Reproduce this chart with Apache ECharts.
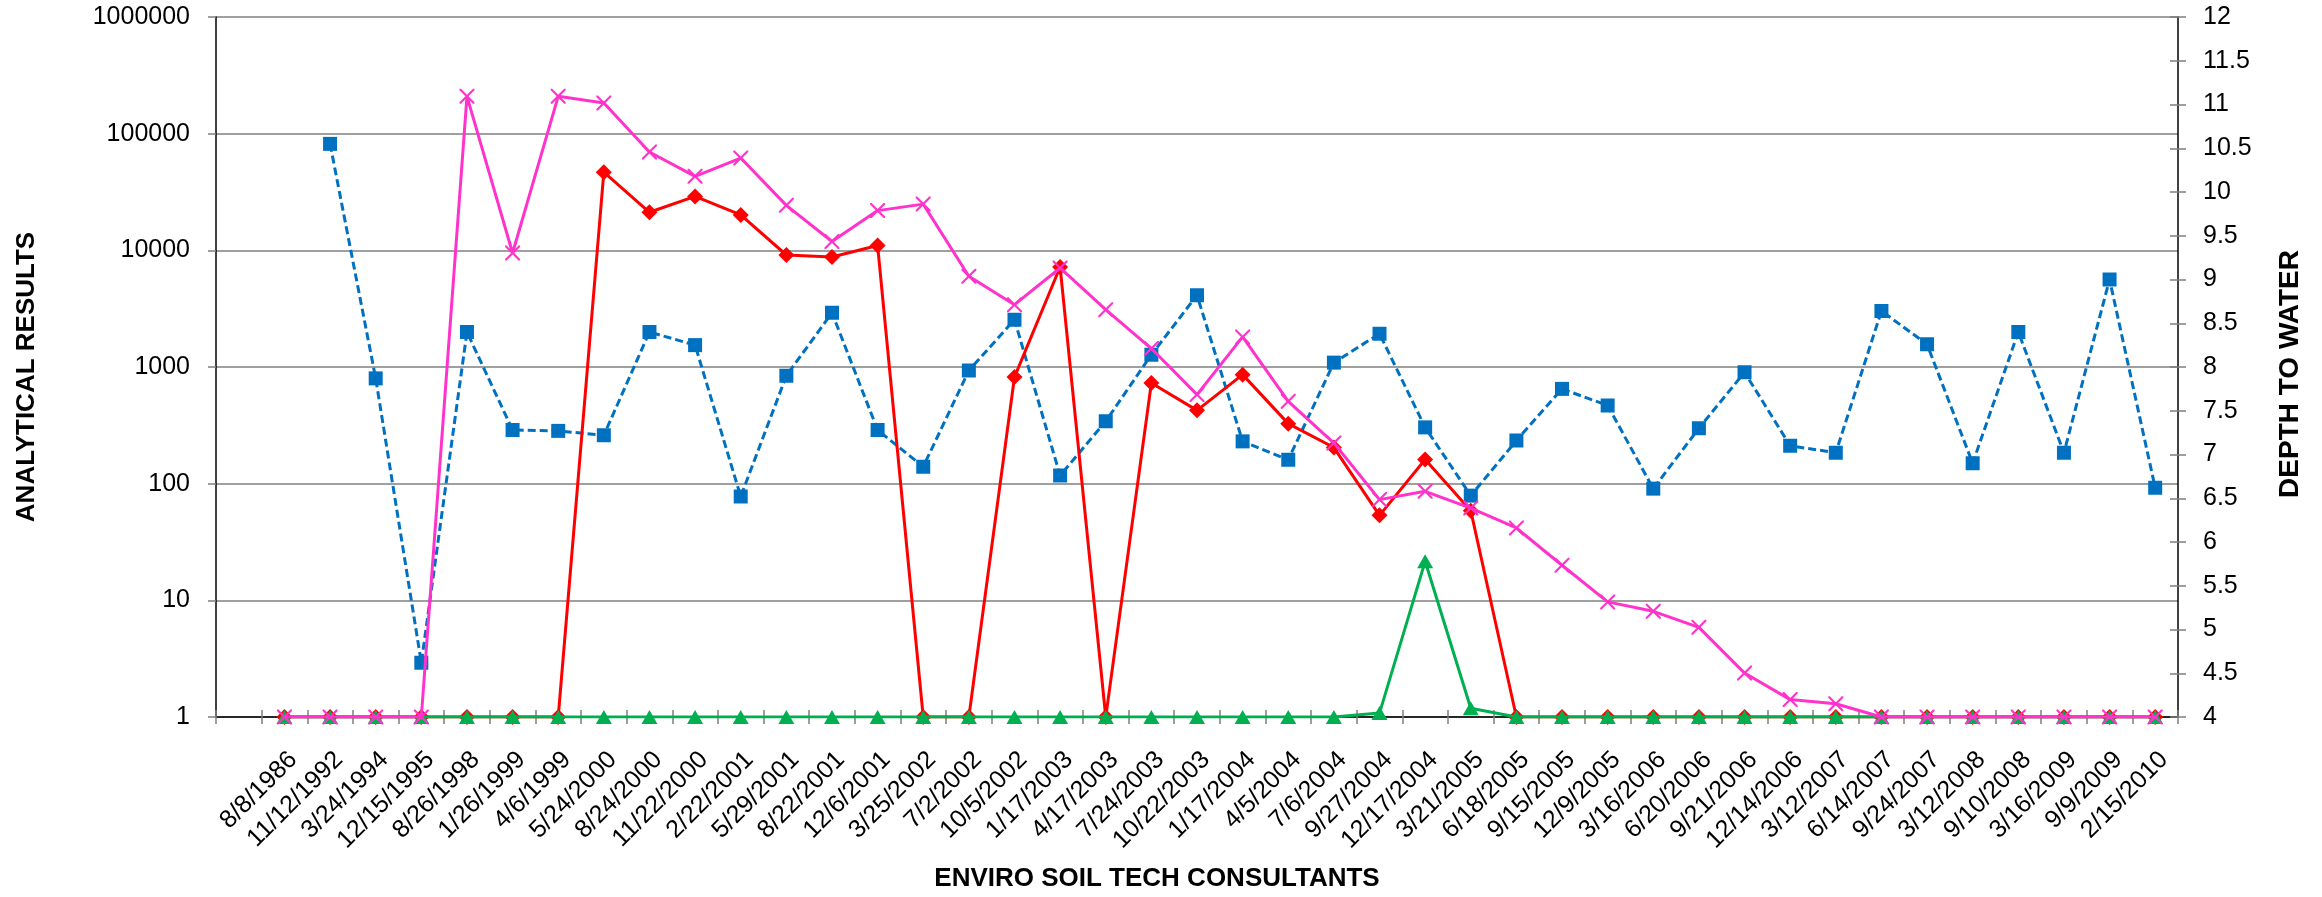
<!DOCTYPE html>
<html>
<head>
<meta charset="utf-8">
<script src="https://cdn.jsdelivr.net/npm/echarts@6/dist/echarts.min.js"></script>
<style>
  html, body { margin: 0; padding: 0; background: #fff; }
  #chart { width: 2322px; height: 897px; }
</style>
</head>
<body>
<div id="chart"></div>
<script>
// Sampling dates (first slot is an empty lead-in band on the axis)
const categories = ['', '8/8/1986', '11/12/1992', '3/24/1994', '12/15/1995', '8/26/1998', '1/26/1999',
  '4/6/1999', '5/24/2000', '8/24/2000', '11/22/2000', '2/22/2001', '5/29/2001', '8/22/2001',
  '12/6/2001', '3/25/2002', '7/2/2002', '10/5/2002', '1/17/2003', '4/17/2003', '7/24/2003',
  '10/22/2003', '1/17/2004', '4/5/2004', '7/6/2004', '9/27/2004', '12/17/2004', '3/21/2005',
  '6/18/2005', '9/15/2005', '12/9/2005', '3/16/2006', '6/20/2006', '9/21/2006', '12/14/2006',
  '3/12/2007', '6/14/2007', '9/24/2007', '3/12/2008', '9/10/2008', '3/16/2009', '9/9/2009',
  '2/15/2010'];

// Depth to water (right axis)
const depthToWater = [null, null, 10.55, 7.87, 4.62, 8.40, 7.28, 7.27, 7.22, 8.40, 8.25, 6.52,
  7.90, 8.62, 7.28, 6.86, 7.96, 8.54, 6.76, 7.38, 8.14, 8.82, 7.15, 6.94, 8.05, 8.38, 7.31,
  6.53, 7.16, 7.75, 7.56, 6.61, 7.30, 7.94, 7.10, 7.02, 8.64, 8.26, 6.90, 8.40, 7.02, 9.00, 6.62];

// Analytical results (left log axis)
const redSeries = [null, 1, 1, 1, 1, 1, 1, 1, 46700, 21200, 29000, 20100, 9120, 8770, 11000,
  1, 1, 820, 7200, 1, 730, 425, 860, 327, 204, 53.5, 161, 58.7,
  1, 1, 1, 1, 1, 1, 1, 1, 1, 1, 1, 1, 1, 1, 1];

const greenSeries = [null, 1, 1, 1, 1, 1, 1, 1, 1, 1, 1, 1, 1, 1, 1, 1, 1, 1, 1, 1, 1, 1, 1, 1, 1,
  1.08, 21.6, 1.19, 1, 1, 1, 1, 1, 1, 1, 1, 1, 1, 1, 1, 1, 1, 1];

const magentaSeries = [null, 1, 1, 1, 1, 209000, 9490, 209000, 183000, 69600, 43100, 61800,
  24300, 11900, 21900, 24900, 5990, 3420, 7060, 3100, 1440, 580, 1810, 508, 223, 73, 86, 61.8,
  41.7, 20, 9.7, 8.05, 5.87, 2.38, 1.41, 1.30, 1, 1, 1, 1, 1, 1, 1];

const FONT = '"Liberation Sans", Arial, Helvetica, sans-serif';
const GRID_GRAY = '#7f7f7f';
const crossSymbol = 'path://M0,0 L2,0 L10,8 L18,0 L20,0 L20,2 L12,10 L20,18 L20,20 L18,20 L10,12 L2,20 L0,20 L0,18 L8,10 L0,2 Z';

const chart = echarts.init(document.getElementById('chart'), null, { renderer: 'canvas' });

const option = {
  animation: false,
  backgroundColor: '#ffffff',
  grid: { left: 216, right: 144, top: 17, bottom: 180, containLabel: false },
  xAxis: [
    {
      type: 'category',
      data: categories,
      position: 'bottom',
      boundaryGap: true,
      axisLine: { show: true, onZero: false, lineStyle: { color: '#000', width: 1.5 } },
      axisTick: { show: true, interval: 0, length: 7, lineStyle: { color: GRID_GRAY, width: 1.5 } },
      axisLabel: {
        interval: 0, rotate: 45, fontSize: 25, color: '#000', fontFamily: FONT,
        margin: 30, align: 'right', verticalAlign: 'top'
      },
      splitLine: { show: false }
    },
    {
      // inner half of the crossing tick marks
      type: 'category',
      data: categories,
      position: 'bottom',
      boundaryGap: true,
      axisLine: { show: false, onZero: false },
      axisTick: { show: true, inside: true, interval: 0, length: 7, lineStyle: { color: GRID_GRAY, width: 1.5 } },
      axisLabel: { show: false },
      splitLine: { show: false }
    }
  ],
  yAxis: [
    {
      type: 'log',
      logBase: 10,
      min: 1,
      max: 1000000,
      position: 'left',
      axisLine: { show: true, onZero: false, lineStyle: { color: '#000', width: 1.5 } },
      axisTick: { show: true, length: 8, lineStyle: { color: GRID_GRAY, width: 1.5 } },
      axisLabel: {
        fontSize: 25, color: '#000', fontFamily: FONT, margin: 26,
        formatter: v => String(Math.round(v))
      },
      splitLine: { show: true, lineStyle: { color: GRID_GRAY, width: 1.5 } }
    },
    {
      type: 'value',
      min: 4,
      max: 12,
      interval: 0.5,
      position: 'right',
      axisLine: { show: true, onZero: false, lineStyle: { color: '#000', width: 1.5 } },
      axisTick: { show: true, length: 8, lineStyle: { color: GRID_GRAY, width: 1.5 } },
      axisLabel: { fontSize: 25, color: '#000', fontFamily: FONT, margin: 25 },
      splitLine: { show: false }
    },
    {
      // inner half of the crossing tick marks on the depth axis
      type: 'value',
      min: 4,
      max: 12,
      interval: 0.5,
      position: 'right',
      axisLine: { show: false, onZero: false },
      axisTick: { show: true, inside: true, length: 8, lineStyle: { color: GRID_GRAY, width: 1.5 } },
      axisLabel: { show: false },
      splitLine: { show: false }
    }
  ],
  series: [
    {
      name: 'DEPTH TO WATER',
      type: 'line',
      yAxisIndex: 1,
      data: depthToWater,
      symbol: 'rect',
      symbolSize: 14,
      showAllSymbol: true,
      lineStyle: { color: '#0070C0', width: 3, type: [8, 4] },
      itemStyle: { color: '#0070C0' },
      z: 2
    },
    {
      name: 'Red',
      type: 'line',
      yAxisIndex: 0,
      data: redSeries,
      symbol: 'diamond',
      symbolSize: 16,
      showAllSymbol: true,
      lineStyle: { color: '#FF0000', width: 3 },
      itemStyle: { color: '#FF0000' },
      z: 3
    },
    {
      name: 'Green',
      type: 'line',
      yAxisIndex: 0,
      data: greenSeries,
      symbol: 'triangle',
      symbolSize: [16, 14],
      showAllSymbol: true,
      lineStyle: { color: '#00B050', width: 3 },
      itemStyle: { color: '#00B050' },
      z: 4
    },
    {
      name: 'Magenta',
      type: 'line',
      yAxisIndex: 0,
      data: magentaSeries,
      symbol: crossSymbol,
      symbolSize: 15,
      showAllSymbol: true,
      lineStyle: { color: '#FF33CC', width: 3 },
      itemStyle: { color: '#FF33CC', borderWidth: 0 },
      z: 5
    }
  ],
  graphic: [
    {
      type: 'text', x: 27, y: 377, rotation: Math.PI / 2,
      style: { text: 'ANALYTICAL RESULTS', fontSize: 26, fontWeight: 'bold', fontFamily: FONT,
        fill: '#000', align: 'center', verticalAlign: 'middle' }
    },
    {
      type: 'text', x: 2290, y: 374, rotation: Math.PI / 2,
      style: { text: 'DEPTH TO WATER', fontSize: 28, fontWeight: 'bold', fontFamily: FONT,
        fill: '#000', align: 'center', verticalAlign: 'middle' }
    },
    {
      type: 'text', x: 1157, y: 879,
      style: { text: 'ENVIRO SOIL TECH CONSULTANTS', fontSize: 26, fontWeight: 'bold', fontFamily: FONT,
        fill: '#000', align: 'center', verticalAlign: 'middle' }
    }
  ]
};

chart.setOption(option);
</script>
</body>
</html>
